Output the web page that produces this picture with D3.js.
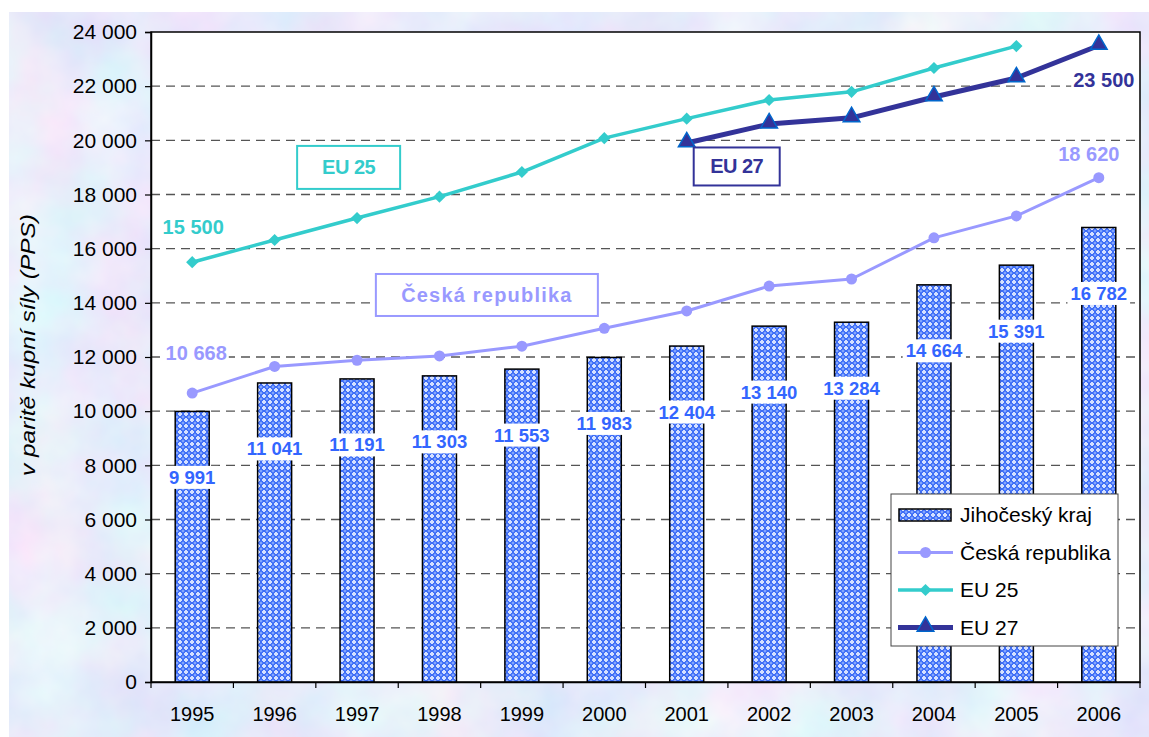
<!DOCTYPE html>
<html lang="cs">
<head>
<meta charset="utf-8">
<title>Jihočeský kraj - PPS</title>
<script src="https://cdn.jsdelivr.net/npm/d3@7"></script>
<style>
  body { margin: 0; background: #fff; }
  svg text { font-family: "Liberation Sans", Arial, sans-serif; }
</style>
</head>
<body>
<script>
// data
var years = ["1995","1996","1997","1998","1999","2000","2001","2002","2003","2004","2005","2006"];
var jihocesky = [9991, 11041, 11191, 11303, 11553, 11983, 12404, 13140, 13284, 14664, 15391, 16782];
var ceskaRep = [10668, 11650, 11880, 12040, 12400, 13060, 13700, 14620, 14880, 16400, 17210, 18620];
var eu25 = [15500, 16320, 17130, 17920, 18830, 20080, 20800, 21490, 21790, 22670, 23480, null];
var eu27 = [null, null, null, null, null, null, 19900, 20600, 20830, 21600, 22300, 23500];
var yTicks = [0, 2000, 4000, 6000, 8000, 10000, 12000, 14000, 16000, 18000, 20000, 22000, 24000];

var W = 1149, H = 737;
var m = {left: 151, right: 9, top: 32, bottom: 55};

var fmt = function(v) { return d3.format(",")(v).replace(/,/g, " "); };

var svg = d3.select("body").append("svg")
  .attr("width", W).attr("height", H);

var defs = svg.append("defs");

// mottled background
var f = defs.append("filter").attr("id", "paper")
  .attr("x", 0).attr("y", 0).attr("width", "100%").attr("height", "100%");
f.append("feTurbulence").attr("type", "fractalNoise")
  .attr("baseFrequency", "0.012").attr("numOctaves", 4).attr("seed", 3);
f.append("feColorMatrix").attr("type", "matrix")
  .attr("values", "0.35 0 0 0 0.63  0 0.3 0 0 0.69  0 0 0.06 0 0.93  0 0 0 0 1");

// bar hatch pattern
var pat = defs.append("pattern").attr("id", "hatch")
  .attr("width", 6).attr("height", 6).attr("patternUnits", "userSpaceOnUse");
pat.append("rect").attr("width", 6).attr("height", 6).attr("fill", "#3c6cf6");
pat.append("path").attr("d", "M0,0h2v1h-1v1h-1z M4,0h2v2h-1v-1h-1z M0,4h1v1h1v1h-2z M6,4v2h-2v-1h1v-1z")
  .attr("fill", "#d4e0ff");
pat.append("rect").attr("x", 2.5).attr("y", 2.5).attr("width", 1).attr("height", 1).attr("fill", "#ffffff");
pat.append("path").attr("d", "M3,1.5v3 M1.5,3h3").attr("stroke", "#8fb0ff").attr("stroke-width", 0.8);

svg.append("rect").attr("x", 9).attr("y", 12).attr("width", W).attr("height", H)
  .attr("filter", "url(#paper)")
  .attr("stroke", "#333").attr("stroke-width", 2);

var x = d3.scaleBand().domain(years).range([m.left, W - m.right]);
var y = d3.scaleLinear().domain([0, 24000]).range([H - m.bottom, m.top]);
var xc = function(yr) { return x(yr) + x.bandwidth() / 2; };

// plot area
svg.append("rect")
  .attr("x", m.left).attr("y", m.top)
  .attr("width", W - m.right - m.left).attr("height", y(0) - m.top)
  .attr("fill", "#fff").attr("stroke", "#000").attr("stroke-width", 1.5);

// grid
svg.append("g").selectAll("line")
  .data(yTicks.filter(function(t) { return t > 0 && t < 24000; }))
  .enter().append("line")
  .attr("x1", m.left).attr("x2", W - m.right)
  .attr("y1", function(d) { return y(d); }).attr("y2", function(d) { return y(d); })
  .attr("stroke", "#555").attr("stroke-width", 1.3).attr("stroke-dasharray", "9,6");

// bars
var barW = 34;
svg.append("g").selectAll("rect")
  .data(jihocesky).enter().append("rect")
  .attr("x", function(d, i) { return xc(years[i]) - barW / 2; })
  .attr("y", function(d) { return y(d); })
  .attr("width", barW)
  .attr("height", function(d) { return y(0) - y(d); })
  .attr("fill", "url(#hatch)")
  .attr("stroke", "#000").attr("stroke-width", 1.5);

// axes
var yAxis = svg.append("g")
  .attr("transform", "translate(" + m.left + ",0)")
  .call(d3.axisLeft(y).tickValues(yTicks).tickFormat(fmt).tickSize(6).tickPadding(8));
var xAxis = svg.append("g")
  .attr("transform", "translate(0," + y(0) + ")")
  .call(d3.axisBottom(x).tickSize(0).tickPadding(25));
[yAxis, xAxis].forEach(function(a) {
  a.select(".domain").attr("stroke", "#000").attr("stroke-width", 1.5);
  a.selectAll(".tick line").attr("stroke", "#000").attr("stroke-width", 1.2);
  a.selectAll("text").attr("font-size", 20).attr("fill", "#000")
    .style("font-family", "'Liberation Sans', Arial, sans-serif");
});
yAxis.selectAll("text").attr("font-size", 21);
// category boundary ticks
svg.append("g").selectAll("line")
  .data(years.concat(["end"])).enter().append("line")
  .attr("x1", function(d, i) { return m.left + i * x.bandwidth(); })
  .attr("x2", function(d, i) { return m.left + i * x.bandwidth(); })
  .attr("y1", y(0)).attr("y2", y(0) + 6)
  .attr("stroke", "#000").attr("stroke-width", 1.2);

svg.append("text")
  .attr("transform", "translate(35," + 345 + ") rotate(-90)")
  .attr("text-anchor", "middle")
  .attr("font-size", 20).attr("font-style", "italic")
  .attr("textLength", 262).attr("lengthAdjust", "spacingAndGlyphs")
  .text("v paritě kupní síly (PPS)");

// lines
function drawLine(vals, color, width) {
  var pts = vals.map(function(v, i) { return v == null ? null : [xc(years[i]), y(v)]; })
    .filter(function(p) { return p; });
  svg.append("path")
    .attr("d", d3.line()(pts))
    .attr("fill", "none").attr("stroke", color)
    .attr("stroke-width", width).attr("stroke-linejoin", "round");
  return pts;
}

var crPts = drawLine(ceskaRep, "#9999ff", 3);
svg.append("g").selectAll("circle").data(crPts).enter().append("circle")
  .attr("cx", function(p) { return p[0]; }).attr("cy", function(p) { return p[1]; })
  .attr("r", 5.5).attr("fill", "#9999ff");

var e25Pts = drawLine(eu25, "#33cccc", 3.5);
svg.append("g").selectAll("path").data(e25Pts).enter().append("path")
  .attr("d", d3.symbol().type(d3.symbolDiamond2).size(95)())
  .attr("transform", function(p) { return "translate(" + p[0] + "," + p[1] + ")"; })
  .attr("fill", "#33cccc");

var e27Pts = drawLine(eu27, "#333399", 5);
svg.append("g").selectAll("path").data(e27Pts).enter().append("path")
  .attr("d", d3.symbol().type(d3.symbolTriangle).size(120)())
  .attr("transform", function(p) { return "translate(" + p[0] + "," + (p[1] - 1) + ")"; })
  .attr("fill", "#333399").attr("stroke", "#0066cc").attr("stroke-width", 1.5);

// bar value labels
var lbl = svg.append("g").selectAll("g")
  .data(jihocesky).enter().append("g")
  .attr("transform", function(d, i) { return "translate(" + xc(years[i]) + "," + (y(d) + 66) + ")"; });
lbl.append("text")
  .attr("text-anchor", "middle").attr("dy", "0.35em")
  .attr("font-size", 18.5).attr("font-weight", "bold").attr("fill", "#3366ff")
  .text(fmt)
  .each(function() {
    var b = this.getBBox();
    d3.select(this.parentNode).insert("rect", "text")
      .attr("x", b.x - 3).attr("y", b.y - 1).attr("width", b.width + 6).attr("height", b.height + 2)
      .attr("fill", "#fff");
  });

// end labels on lines
function endLabel(txt, px, py, color) {
  var t = svg.append("text").attr("x", px).attr("y", py)
    .attr("text-anchor", "middle").attr("dy", "0.35em")
    .attr("font-size", 20).attr("font-weight", "bold").attr("fill", color).text(txt);
  var b = t.node().getBBox();
  svg.insert("rect", function() { return t.node(); })
    .attr("x", b.x - 2).attr("y", b.y).attr("width", b.width + 4).attr("height", b.height)
    .attr("fill", "#fff");
}
endLabel(fmt(ceskaRep[0]), xc("1995") + 4, y(ceskaRep[0]) - 40, "#9999ff");
endLabel(fmt(eu25[0]), xc("1995") + 1, y(eu25[0]) - 35, "#33cccc");
endLabel(fmt(ceskaRep[11]), xc("2006") - 10, y(ceskaRep[11]) - 24, "#9999ff");
endLabel(fmt(eu27[11]), xc("2006") + 5, y(eu27[11]) + 34, "#333399");

// series name boxes
function nameBox(txt, cx, cy, w, h, color, spacing) {
  svg.append("rect").attr("x", cx - w / 2).attr("y", cy - h / 2)
    .attr("width", w).attr("height", h)
    .attr("fill", "#fff").attr("stroke", color).attr("stroke-width", 2);
  svg.append("text").attr("x", cx).attr("y", cy).attr("dy", "0.35em")
    .attr("text-anchor", "middle").attr("font-size", 20).attr("font-weight", "bold")
    .attr("letter-spacing", spacing || 0)
    .attr("fill", color).text(txt);
}
nameBox("EU 25", xc("1996") + 74, y(19000), 103, 43, "#33cccc", -0.5);
nameBox("Česká republika", xc("1999") - 35, y(14290), 222, 42, "#9999ff", 1.2);
nameBox("EU 27", xc("2001") + 50, y(19035), 86, 38, "#333399", -0.5);

// legend
var lg = svg.append("g").attr("transform", "translate(891,494)");
lg.append("rect").attr("width", 227).attr("height", 152)
  .attr("fill", "#fff").attr("stroke", "#444").attr("stroke-width", 1);
var items = ["Jihočeský kraj", "Česká republika", "EU 25", "EU 27"];
var rows = lg.selectAll("g.item").data(items).enter().append("g")
  .attr("transform", function(d, i) { return "translate(0," + (21 + i * 37.5) + ")"; });
rows.append("text").attr("x", 69).attr("dy", "0.35em")
  .attr("font-size", 21).attr("fill", "#000").text(function(d) { return d; });
rows.filter(function(d, i) { return i === 0; }).append("rect")
  .attr("x", 8).attr("y", -6).attr("width", 52).attr("height", 12)
  .attr("fill", "url(#hatch)").attr("stroke", "#000").attr("stroke-width", 1.5);
var lineStyles = [null, ["#9999ff", 3], ["#33cccc", 3.5], ["#333399", 5]];
rows.filter(function(d, i) { return i > 0; }).append("line")
  .attr("x1", 7).attr("x2", 62)
  .attr("stroke", function(d) { return lineStyles[items.indexOf(d)][0]; })
  .attr("stroke-width", function(d) { return lineStyles[items.indexOf(d)][1]; });
rows.filter(function(d, i) { return i === 1; }).append("circle")
  .attr("cx", 34.5).attr("r", 5.5).attr("fill", "#9999ff");
rows.filter(function(d, i) { return i === 2; }).append("path")
  .attr("transform", "translate(34.5,0)")
  .attr("d", d3.symbol().type(d3.symbolDiamond2).size(95)()).attr("fill", "#33cccc");
rows.filter(function(d, i) { return i === 3; }).append("path")
  .attr("transform", "translate(34.5,-1)")
  .attr("d", d3.symbol().type(d3.symbolTriangle).size(120)())
  .attr("fill", "#333399").attr("stroke", "#0066cc").attr("stroke-width", 1.5);
</script>
</body>
</html>
